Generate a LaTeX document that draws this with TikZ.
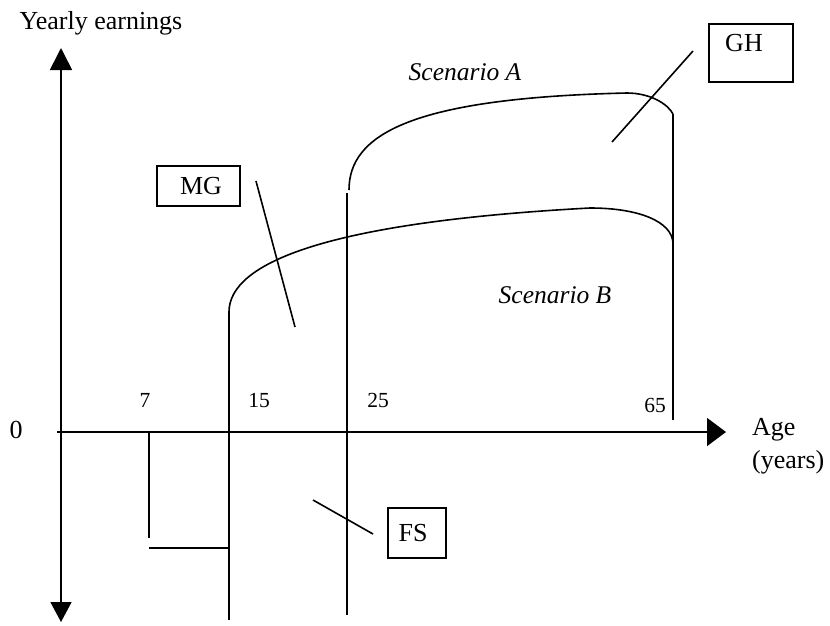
\documentclass[tikz,border=0pt]{standalone}
\usepackage{fontspec}
\setmainfont{Liberation Serif}
\usetikzlibrary{arrows.meta}
\begin{document}
\begin{tikzpicture}[x=1pt,y=-1pt,
  ln/.style={line width=1.6pt},
  box/.style={draw,line width=1.3pt,inner sep=0pt},
  txt/.style={inner sep=0pt,font=\fontsize{26}{30}\selectfont},
  num/.style={inner sep=0pt,font=\fontsize{21.5}{25}\selectfont},
  scen/.style={inner sep=0pt,font=\fontsize{25.5}{30}\selectfont\itshape}]
\useasboundingbox (0,0) rectangle (830,625);
% axes
\coordinate (ytop) at (61,48);
\coordinate (ybot) at (61,622);
\coordinate (yorg) at (61,330);
\coordinate (xstart) at (57,432);
\coordinate (xend) at (726,432);
\draw[ln,-{Triangle[length=22pt,width=22pt]}] (yorg) -- (ytop);
\draw[ln,-{Triangle[length=20pt,width=21pt]}] (yorg) -- (ybot);
\draw[ln,-{Triangle[length=19pt,width=28pt]}] (xstart) -- (xend);
% age markers
\coordinate (a7t) at (149,432);
\coordinate (a7b) at (149,538);
\coordinate (h7) at (149,548);
\coordinate (h15) at (229,548);
\draw[ln] (a7t) -- (a7b);
\draw[ln] (h7) -- (h15);
\coordinate (b0) at (229,312);
\coordinate (b15) at (229,620);
\draw[ln] (b0) -- (b15);
\coordinate (a25t) at (347,193);
\coordinate (a25b) at (347,615);
\draw[ln] (a25t) -- (a25b);
\coordinate (a0) at (349,190);
\coordinate (atop) at (627,93);
\coordinate (aend) at (673,114);
\coordinate (v65b) at (673,420);
\draw[ln] (aend) -- (v65b);
% scenario A curve
\draw[ln] (a0) .. controls (349,135) and (410,98) .. (atop)
  .. controls (650,93) and (668,104) .. (aend);
% scenario B curve
\coordinate (btop) at (590,208);
\coordinate (bend) at (673,243);
\draw[ln] (b0) .. controls (229,262) and (330,222) .. (btop)
  .. controls (640,208) and (672,222) .. (bend);
% labels
\node[txt] (yl) at (101,23) {Yearly earnings};
\node[txt] (zero) at (16,430) {0};
\node[txt,anchor=west] (age) at (752,430) {Age};
\node[txt,anchor=west] (yrs) at (752,462) {(years)};
\node[num] (n7) at (145,400) {7};
\node[num] (n15) at (259,400) {15};
\node[num] (n25) at (378,400) {25};
\node[num] (n65) at (655,405) {65};
\node[scen] (sa) at (465,72) {Scenario A};
\node[scen] (sb) at (555,295) {Scenario B};
% boxes
\node[box,minimum width=84pt,minimum height=58pt] (gh) at (751,53) {};
\node[txt] (ght) at (744,43) {GH};
\node[box,txt,minimum width=83pt,minimum height=40pt] (mg) at (198.5,186) {\hspace*{5pt}MG};
\node[box,txt,minimum width=58pt,minimum height=50pt] (fs) at (417,533) {FS\hspace*{8pt}};
% pointers
\coordinate (gp1) at (693,51);
\coordinate (gp2) at (612,142);
\draw[ln] (gp1) -- (gp2);
\coordinate (mp1) at (256,181);
\coordinate (mp2) at (295,327);
\draw[ln] (mp1) -- (mp2);
\coordinate (fp1) at (313,500);
\coordinate (fp2) at (373,534);
\draw[ln] (fp1) -- (fp2);
\end{tikzpicture}
\end{document}
